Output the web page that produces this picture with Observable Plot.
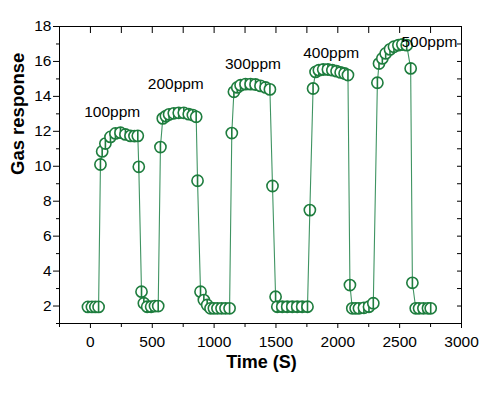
<!DOCTYPE html>
<html>
<head>
<meta charset="utf-8">
<script src="https://cdn.jsdelivr.net/npm/d3@7"></script>
<script src="https://cdn.jsdelivr.net/npm/@observablehq/plot@0.6"></script>
<style>
  html, body { margin: 0; padding: 0; background: #fff; }
</style>
</head>
<body>
<div id="chart"></div>
<script>
// Time (s) and gas response
const time = [
  -20, 12, 40, 66,
  81, 95, 121, 162, 202, 243, 283, 324, 356, 383,
  391, 413, 432, 459, 491, 522, 548,
  566, 585, 610, 636, 674, 714, 755, 795, 828, 855,
  866, 890, 917, 944, 971, 998, 1027, 1060, 1092, 1125,
  1143, 1160, 1187, 1214, 1254, 1295, 1335, 1375, 1416, 1451,
  1472, 1497, 1511, 1551, 1591, 1632, 1672, 1712, 1755,
  1774, 1800, 1820, 1847, 1882, 1920, 1956, 1990, 2023, 2055, 2082,
  2098, 2117, 2144, 2171, 2211, 2252, 2287,
  2320, 2333, 2360, 2387, 2422, 2454, 2490, 2522, 2557, 2589,
  2603, 2630, 2657, 2692, 2729, 2751
];
const response = [
  1.95, 1.95, 1.95, 1.95,
  10.1, 10.85, 11.3, 11.68, 11.88, 11.92, 11.82, 11.74, 11.73, 11.74,
  9.97, 2.82, 2.16, 1.96, 1.96, 2.0, 2.0,
  11.1, 12.74, 12.87, 12.97, 13.03, 13.06, 13.06, 12.98, 12.93, 12.83,
  9.17, 2.82, 2.34, 2.06, 1.87, 1.87, 1.87, 1.87, 1.87, 1.87,
  11.9, 14.26, 14.51, 14.64, 14.7, 14.7, 14.68, 14.6, 14.51, 14.4,
  8.87, 2.53, 1.96, 1.96, 1.96, 1.96, 1.96, 1.96, 1.96,
  7.49, 14.45, 15.4, 15.5, 15.54, 15.54, 15.5, 15.44, 15.37, 15.31, 15.22,
  3.2, 1.87, 1.87, 1.87, 1.9, 1.96, 2.16,
  14.78, 15.88, 16.17, 16.46, 16.69, 16.84, 16.93, 16.97, 16.93, 15.6,
  3.33, 1.87, 1.87, 1.87, 1.87, 1.87
];

// Concentration labels
const labelText = ["100ppm", "200ppm", "300ppm", "400ppm", "500ppm"];
const labelTime = [176, 690, 1314, 1947, 2741];
const labelResp = [13.13, 14.72, 15.87, 16.5, 17.1];

// Tick values
const xMajorTicks = [0, 500, 1000, 1500, 2000, 2500, 3000];
const xMinorTicks = [-250, 250, 750, 1250, 1750, 2250, 2750];
const xTopTicks = [-250, 0, 250, 500, 750, 1000, 1250, 1500, 1750, 2000, 2250, 2500, 2750, 3000];
const yMajorTicks = [2, 4, 6, 8, 10, 12, 14, 16, 18];
const yMinorTicks = [1, 3, 5, 7, 9, 11, 13, 15, 17];
const yRightTicks = [1, 2, 3, 4, 5, 6, 7, 8, 9, 10, 11, 12, 13, 14, 15, 16, 17, 18];

const data = time.map((t, i) => ({t, v: response[i]}));
const labels = labelText.map((s, i) => ({s, t: labelTime[i], v: labelResp[i]}));

const markerColor = "#1e7d3e";
const lineColor = "#3f9462";

// circle with a vertical bar through its centre
const barCircle = {
  draw(context, size) {
    const r = Math.sqrt(size / Math.PI);
    context.moveTo(r, 0);
    context.arc(0, 0, r, 0, 2 * Math.PI);
    context.moveTo(0, -r);
    context.lineTo(0, r);
  }
};

const font = "'Liberation Sans', Arial, Helvetica, sans-serif";
const noText = () => "";
const intFmt = d3.format("d");

const chart = Plot.plot({
  width: 500,
  height: 394,
  marginLeft: 59,
  marginRight: 39,
  marginTop: 26,
  marginBottom: 71,
  style: {fontFamily: font, background: "#fff", color: "#000"},
  x: {domain: [-250, 3000]},
  y: {domain: [1, 18]},
  marks: [
    Plot.axisX({anchor: "bottom", ticks: xMajorTicks, tickSize: 5, tickPadding: 7, fontSize: 15.5, tickFormat: intFmt, label: null, stroke: "#000", fill: "#000"}),
    Plot.axisX({anchor: "bottom", ticks: xMinorTicks, tickSize: 4, tickFormat: noText, label: null, stroke: "#000"}),
    Plot.axisX({anchor: "top", ticks: xTopTicks, tickSize: -6, tickFormat: noText, label: null, stroke: "#000"}),
    Plot.axisY({anchor: "left", ticks: yMajorTicks, tickSize: 6, tickPadding: 2, fontSize: 15.5, label: null, stroke: "#000", fill: "#000"}),
    Plot.axisY({anchor: "left", ticks: yMinorTicks, tickSize: 3, tickFormat: noText, label: null, stroke: "#000"}),
    Plot.axisY({anchor: "right", ticks: yRightTicks, tickSize: -5, tickFormat: noText, label: null, stroke: "#000"}),
    Plot.frame({stroke: "#000", strokeWidth: 1}),
    Plot.line(data, {x: "t", y: "v", stroke: lineColor, strokeWidth: 1.1}),
    Plot.dot(data, {x: "t", y: "v", r: 5.6, symbol: barCircle, stroke: markerColor, strokeWidth: 1.6, fill: "white"}),
    Plot.text(labels, {x: "t", y: "v", text: "s", fontSize: 15.5, fill: "#000"}),
    Plot.text(["Gas response"], {frameAnchor: "left", dx: -41.5, rotate: -90, fontSize: 18.5, fontWeight: "bold", fill: "#000"}),
    Plot.text(["Time (S)"], {frameAnchor: "bottom", dy: 44, dx: 1, fontSize: 18, fontWeight: "bold", fill: "#000"})
  ]
});

document.getElementById("chart").appendChild(chart);
</script>
</body>
</html>
